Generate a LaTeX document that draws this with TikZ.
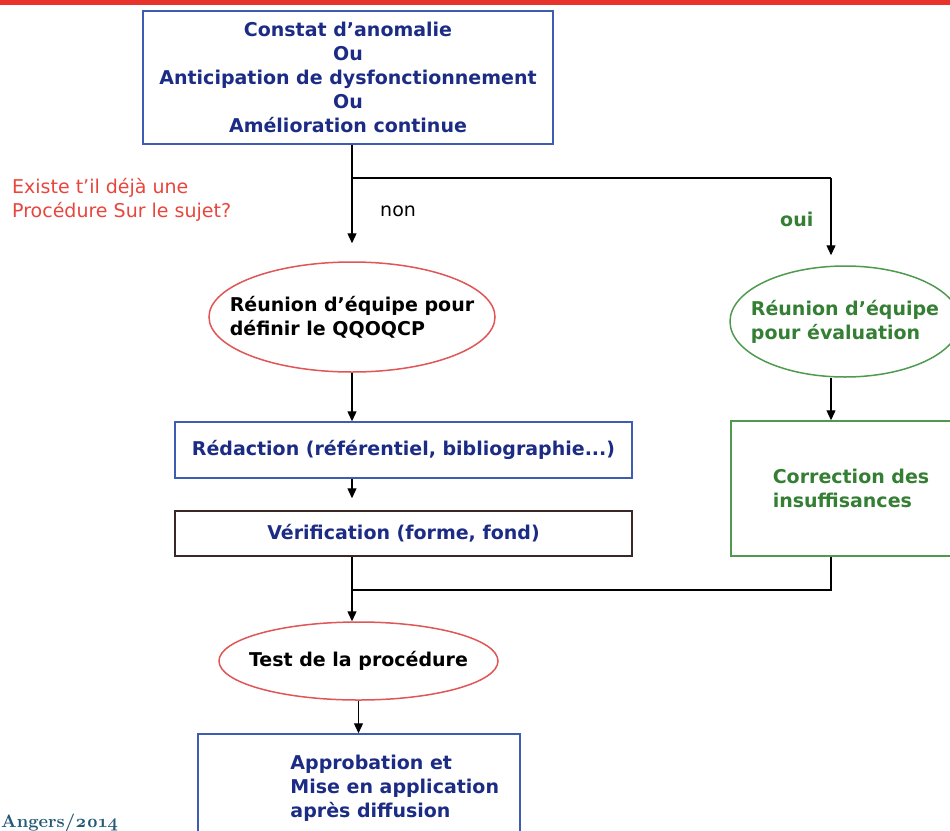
\documentclass[tikz,border=0pt]{standalone}
\usepackage{fontspec}
\setmainfont{DejaVu Sans}
\newfontfamily\signfont{lmroman10-bold.otf}[Numbers=OldStyle]
\usetikzlibrary{positioning,calc,arrows.meta,shapes.geometric}
\definecolor{bandred}{HTML}{E8322C}
\definecolor{navy}{HTML}{1C2C85}
\definecolor{boxblue}{HTML}{3F5CB3}
\definecolor{askred}{HTML}{E8453C}
\definecolor{ovalred}{HTML}{E05555}
\definecolor{okgreen}{HTML}{357F35}
\definecolor{ovalgreen}{HTML}{4E9A4E}
\definecolor{boxdark}{HTML}{3A2828}
\definecolor{signteal}{HTML}{245A78}
\tikzset{
  txt/.style={font=\fontsize{19}{24}\selectfont\bfseries,align=center},
  bluebox/.style={rectangle,draw=boxblue,line width=1.5pt,txt,text=navy,inner sep=0},
  darkbox/.style={bluebox,draw=boxdark},
  greenbox/.style={rectangle,draw=ovalgreen,line width=1.5pt,txt,text=okgreen,align=left,inner sep=0},
  % ellipses are sized by hand, the negative x sep keeps the text from widening them
  redoval/.style={ellipse,draw=ovalred,line width=1.5pt,txt,text=black,align=left,inner ysep=0},
  greenoval/.style={redoval,draw=ovalgreen,text=okgreen},
  note/.style={font=\fontsize{19}{24}\selectfont,align=left,inner sep=0},
  link/.style={line width=1.3pt},
  arr/.style={link,-{Triangle[length=10pt,width=9pt]}},
}
\begin{document}
\begin{tikzpicture}[x=1pt,y=-1pt]
  \useasboundingbox (0,0) rectangle (950,830);
  \clip (0,0) rectangle (950,830);
  \fill[bandred] (0,0) rectangle (950,5);
  % starting point
  \node[bluebox,minimum width=410pt,minimum height=133pt] (start) at (348,77.5)
    {Constat d’anomalie\\Ou\\Anticipation de dysfonctionnement\\Ou\\Amélioration continue};
  % the question and its two answers
  \coordinate (fork) at (352,178);
  \coordinate (forkR) at (831,178);
  \node[note,text=askred,anchor=base west] (ask) at (12,217) {Existe t’il déjà une\\Procédure Sur le sujet?};
  \node[note,anchor=base west] (no) at (380,216) {non};
  \node[txt,text=okgreen,anchor=base west,inner sep=0] (yes) at (780,226) {oui};
  \draw[link] (start.south -| fork) -- (fork) -- (forkR);
  % left branch: new procedure
  \node[redoval,minimum width=286pt,minimum height=110pt,inner xsep=-22pt] (meetA) at (352,317)
    {Réunion d’équipe pour\\définir le QQOQCP};
  \draw[arr,shorten >=18pt] (fork) -- (meetA.north);
  \node[bluebox,minimum width=457pt,minimum height=56pt] (draft) at (403.5,450) {Rédaction (référentiel, bibliographie...)};
  \draw[arr] (meetA.south) -- (meetA.south |- draft.north);
  \node[darkbox,minimum width=457pt,minimum height=45pt] (check) at (403.5,533.5) {Vérification (forme, fond)};
  \draw[arr,shorten >=12pt] (draft.south -| fork) -- (check.north -| fork);
  % right branch: existing procedure
  \node[greenoval,minimum width=230pt,minimum height=111pt,inner xsep=-14pt] (meetB) at (845,321.5)
    {Réunion d’équipe\\pour évaluation};
  \draw[arr,shorten >=10pt] (forkR) -- (forkR |- meetB.north);
  \node[greenbox,minimum width=240pt,minimum height=135pt] (fix) at (851,488.5) {Correction des\\insuffisances};
  \draw[arr] (meetB.south -| forkR) -- (fix.north -| forkR);
  % both branches meet again
  \coordinate (join) at (352,590);
  \draw[link] (check.south -| join) -- (join) -- (join -| forkR) -- (fix.south -| forkR);
  \node[redoval,minimum width=279pt,minimum height=78pt,inner xsep=-13pt] (test) at (358.5,661) {Test de la procédure};
  \draw[arr] (join) -- (join |- test.north);
  \node[bluebox,minimum width=322pt,minimum height=108pt,
    label={[txt,text=navy,align=left,anchor=west,inner sep=0,xshift=93pt]west:{Approbation et\\Mise en application\\après diffusion}}] (ok) at (359,788) {};
  \draw[arr] (test.south) -- (test.south |- ok.north);
  \node[font=\signfont\fontsize{18}{20}\selectfont,text=signteal,anchor=base west,inner sep=0] (sign) at (1,827) {Angers/2014};
\end{tikzpicture}
\end{document}
